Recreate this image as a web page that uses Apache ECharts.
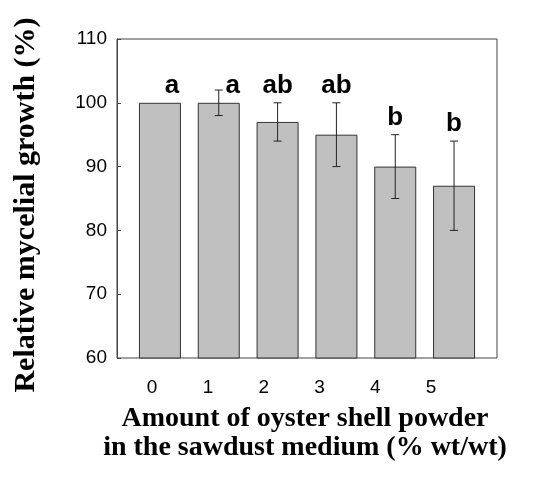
<!DOCTYPE html>
<html>
<head>
<meta charset="utf-8">
<script src="https://cdn.jsdelivr.net/npm/echarts@6/dist/echarts.min.js"></script>
<style>
  html, body { margin: 0; padding: 0; background: #fff; }
  #chart { width: 550px; height: 480px; }
</style>
</head>
<body>
<div id="chart"></div>
<script>
// data
const doses = [0, 1, 2, 3, 4, 5];
const growth = [100, 100, 97, 95, 90, 87];
const errLow = [100, 98, 94, 90, 85, 80];
const errHigh = [100, 102, 100, 100, 95, 94];
const letters = ['a', 'a', 'ab', 'ab', 'b', 'b'];
const yTicks = [60, 70, 80, 90, 100, 110];

// letters over the first two bars sit a bit right of centre
const letterShift = [12, 14, 0, 0, 0, 0];

const chart = echarts.init(document.getElementById('chart'));

const barData = doses.map((d, i) => [d, growth[i]]);
const errData = doses.map((d, i) => [d, errLow[i], errHigh[i], growth[i]]);

function renderErr(params, api) {
  const i = params.dataIndex;
  const x = api.value(0);
  const lo = api.coord([x, api.value(1)]);
  const hi = api.coord([x, api.value(2)]);
  const top = api.coord([x, api.value(3)]);
  const cap = 4;
  const children = [];
  if (errHigh[i] !== errLow[i]) {
    const st = { stroke: '#222', lineWidth: 1 };
    children.push(
      { type: 'line', shape: { x1: hi[0], y1: hi[1], x2: lo[0], y2: lo[1] }, style: st },
      { type: 'line', shape: { x1: hi[0] - cap, y1: hi[1], x2: hi[0] + cap, y2: hi[1] }, style: st },
      { type: 'line', shape: { x1: lo[0] - cap, y1: lo[1], x2: lo[0] + cap, y2: lo[1] }, style: st }
    );
  }
  // anchor letter above the error bar, or above the bar when shifted aside
  const anchorY = letterShift[i] ? top[1] : Math.min(hi[1], top[1]);
  children.push({
    type: 'text',
    style: {
      text: letters[i],
      x: hi[0] + letterShift[i],
      y: anchorY - 4,
      textAlign: 'center',
      textVerticalAlign: 'bottom',
      font: 'bold 26px "Liberation Sans", Arial, sans-serif',
      fill: '#000'
    }
  });
  return { type: 'group', children: children };
}

chart.setOption({
  animation: false,
  grid: {
    left: 117, top: 39, width: 380, height: 319,
    show: true, borderColor: '#444', borderWidth: 1, backgroundColor: '#fff'
  },
  xAxis: [
    {
      type: 'value', min: -0.73, max: 5.73,
      axisLine: { show: false }, axisTick: { show: false },
      axisLabel: { show: false }, splitLine: { show: false }
    },
    {
      // tick labels in the source sit slightly left of the bars
      type: 'value', min: -0.63, max: 6.18, position: 'bottom',
      axisLine: { show: false }, axisTick: { show: false }, splitLine: { show: false },
      axisLabel: {
        customValues: doses,
        margin: 20, fontSize: 19, color: '#000',
        fontFamily: '"Liberation Sans", Arial, sans-serif'
      }
    }
  ],
  yAxis: {
    type: 'value', min: yTicks[0], max: yTicks[yTicks.length - 1], interval: 10,
    axisLine: { show: true, onZero: false, lineStyle: { color: '#444' } },
    axisTick: { show: true, inside: true, length: 4, lineStyle: { color: '#444' } },
    splitLine: { show: false },
    axisLabel: {
      margin: 10, fontSize: 19, color: '#000',
      fontFamily: '"Liberation Sans", Arial, sans-serif'
    }
  },
  graphic: [
    {
      type: 'text', x: 26, y: 205, rotation: Math.PI / 2,
      style: {
        text: 'Relative mycelial growth (%)',
        textAlign: 'center', textVerticalAlign: 'middle',
        font: 'bold 30px "Liberation Serif", "Times New Roman", serif', fill: '#000'
      }
    },
    {
      type: 'text', x: 305, y: 419,
      style: {
        text: 'Amount of oyster shell powder',
        textAlign: 'center', textVerticalAlign: 'middle',
        font: 'bold 28px "Liberation Serif", "Times New Roman", serif', fill: '#000'
      }
    },
    {
      type: 'text', x: 305, y: 448,
      style: {
        text: 'in the sawdust medium (% wt/wt)',
        textAlign: 'center', textVerticalAlign: 'middle',
        font: 'bold 28px "Liberation Serif", "Times New Roman", serif', fill: '#000'
      }
    }
  ],
  series: [
    {
      type: 'bar', xAxisIndex: 0, data: barData, barWidth: 42,
      itemStyle: { color: '#c0c0c0', borderColor: '#333', borderWidth: 1 }
    },
    {
      type: 'custom', xAxisIndex: 0, data: errData, renderItem: renderErr, z: 5
    }
  ]
});
</script>
</body>
</html>
